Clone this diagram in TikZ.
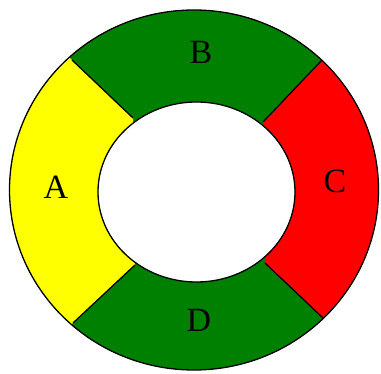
\documentclass[tikz,border=0pt]{standalone}
\usepackage{fontspec}
\setmainfont{Liberation Serif}
\definecolor{ringgreen}{RGB}{0,128,0}
\definecolor{ringyellow}{RGB}{255,255,0}
\definecolor{ringred}{RGB}{255,0,0}
\begin{document}
\begin{tikzpicture}[x=1pt,y=-1pt,
  outline/.style={draw=black,line width=1.3pt},
  lab/.style={font=\fontsize{34}{34}\selectfont,inner sep=0pt}]
\useasboundingbox (0,0) rectangle (381,374);
% ring geometry
\coordinate (oc) at (194,190);
\coordinate (ic) at (196.5,192);
\coordinate (abI) at (133,118); \coordinate (abO) at (72,60); \coordinate (abX) at (-50,-56);
\coordinate (bcI) at (263,122); \coordinate (bcO) at (322,60); \coordinate (bcX) at (440,-64);
\coordinate (cdI) at (265,263); \coordinate (cdO) at (323,318); \coordinate (cdX) at (439,428);
\coordinate (adI) at (135,265); \coordinate (adO) at (73,323);  \coordinate (adX) at (-51,439);
% green ring
\fill[ringgreen,even odd rule] (oc) ellipse [x radius=184.5,y radius=180] (ic) ellipse [x radius=98.5,y radius=90];
% A sector
\begin{scope}
\clip (abX) -- (abI) -- (adI) -- (adX) -- cycle;
\fill[ringyellow,even odd rule] (oc) ellipse [x radius=184.5,y radius=180] (ic) ellipse [x radius=98.5,y radius=90];
\end{scope}
% C sector
\begin{scope}
\clip (bcX) -- (bcI) -- (cdI) -- (cdX) -- cycle;
\fill[ringred,even odd rule] (oc) ellipse [x radius=184.5,y radius=180] (ic) ellipse [x radius=98.5,y radius=90];
\end{scope}
% outlines
\draw[outline] (oc) ellipse [x radius=184.5,y radius=180];
\draw[outline] (ic) ellipse [x radius=98.5,y radius=90];
\draw[outline] (abI) -- (abO);
\draw[outline] (bcI) -- (bcO);
\draw[outline] (cdI) -- (cdO);
\draw[outline] (adI) -- (adO);
% labels
\node[lab] (A) at (56,187) {A};
\node[lab] (B) at (201,52) {B};
\node[lab] (C) at (335,181) {C};
\node[lab] (D) at (199,320) {D};
\end{tikzpicture}
\end{document}
